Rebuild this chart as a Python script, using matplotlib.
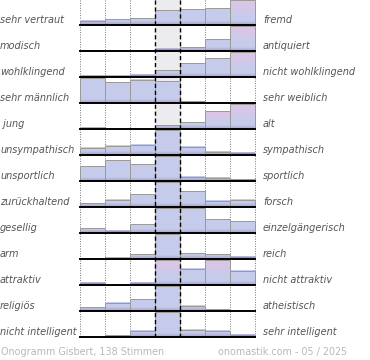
import numpy as np
import matplotlib.pyplot as plt
from matplotlib.patches import Rectangle

left_labels = ['sehr vertraut', 'modisch', 'wohlklingend', 'sehr männlich', ' jung',
               'unsympathisch', 'unsportlich', 'zurückhaltend', 'gesellig', 'arm',
               'attraktiv', 'religiös', 'nicht intelligent']
right_labels = ['fremd', 'antiquiert', 'nicht wohlklingend', 'sehr weiblich', 'alt',
                'sympathisch', 'sportlich', 'forsch', 'einzelgängerisch', 'reich',
                'nicht attraktiv', 'atheistisch', 'sehr intelligent']

# bar heights per row, relative to the row's tallest bar
scores = [
    [0.17, 0.23, 0.27, 0.60, 0.63, 0.67, 1.00],
    [0.04, 0.00, 0.00, 0.10, 0.15, 0.47, 1.00],
    [0.05, 0.06, 0.10, 0.27, 0.55, 0.75, 1.00],
    [1.00, 0.83, 0.93, 0.88, 0.08, 0.00, 0.00],
    [0.05, 0.00, 0.00, 0.15, 0.27, 0.72, 1.00],
    [0.30, 0.38, 0.42, 1.00, 0.33, 0.13, 0.09],
    [0.60, 0.83, 0.68, 1.00, 0.18, 0.13, 0.08],
    [0.15, 0.30, 0.52, 1.00, 0.63, 0.26, 0.30],
    [0.20, 0.09, 0.35, 1.00, 1.00, 0.55, 0.47],
    [0.00, 0.06, 0.20, 1.00, 0.23, 0.19, 0.10],
    [0.10, 0.00, 0.10, 1.00, 0.65, 1.00, 0.57],
    [0.16, 0.33, 0.47, 1.00, 0.21, 0.08, 0.00],
    [0.00, 0.08, 0.25, 1.00, 0.30, 0.25, 0.10],
]
# bars whose top fades to pink (row, column)
pink_top = [(0, 6), (1, 6), (2, 6), (4, 5), (4, 6), (10, 3), (10, 5)]

footer_left = 'Onogramm Gisbert, 138 Stimmen'
footer_right = 'onomastik.com - 05 / 2025'

# layout in pixels
x0, colw = 80, 25
y_first, rowh, barh = 25, 26, 25
ncol = 7
nrow = len(scores)
y_last = y_first + rowh * (nrow - 1)

blue = np.array([198, 204, 235]) / 255
purple = np.array([163, 150, 200]) / 255
pink = np.array([223, 196, 230]) / 255

fig = plt.figure(figsize=(3.7, 3.6), dpi=100)
ax = fig.add_axes([0, 0, 1, 1])
ax.set_xlim(0, 370)
ax.set_ylim(360, 0)
ax.axis('off')

# grey middle column
ax.add_patch(Rectangle((x0 + 3 * colw, 0), colw, y_last, color='#ececee', zorder=0))

# dotted grid
for i in range(ncol + 1):
    if i in (3, 4):
        continue
    ax.plot([x0 + i * colw] * 2, [0, y_last], color='#777777', lw=0.7,
            linestyle=(0, (1, 1.5)), zorder=1)

for r, row in enumerate(scores):
    base = y_first + r * rowh
    for c, v in enumerate(row):
        if v <= 0:
            continue
        h = v * barh
        n = max(int(h * 4), 2)
        d = np.linspace(h, 0, n)  # distance from bottom, top first
        wp = np.clip(1 - d / 4.0, 0, 1) * 0.85
        col = blue[None, :] * (1 - wp[:, None]) + purple[None, :] * wp[:, None]
        if (r, c) in pink_top:
            wk = np.clip((d - 0.35 * h) / (0.6 * h), 0, 1)
            col = col * (1 - wk[:, None]) + pink[None, :] * wk[:, None]
        img = np.repeat(col[:, None, :], 2, axis=1)
        left = x0 + c * colw
        ax.imshow(img, extent=(left, left + colw, base, base - h), origin='upper',
                  aspect='auto', interpolation='bilinear', zorder=2)
        ax.add_patch(Rectangle((left, base - h), colw, h, fill=False,
                               edgecolor='#9a9a9a', lw=0.7, zorder=3))
    ax.plot([x0, x0 + ncol * colw], [base, base], color='black', lw=1.4, zorder=5)
    ax.text(0, base - 5, left_labels[r], fontsize=7.0, style='italic',
            color='#555555', va='center', ha='left')
    ax.text(263, base - 5, right_labels[r], fontsize=7.0, style='italic',
            color='#555555', va='center', ha='left')

# dashed lines around the middle column
for i in (3, 4):
    ax.plot([x0 + i * colw] * 2, [0, y_last], color='black', lw=1.0,
            linestyle=(0, (3, 2)), zorder=4)

ax.text(1, 352, footer_left, fontsize=6.9, color='#b8b8b8', va='center', ha='left')
ax.text(347, 352, footer_right, fontsize=6.9, color='#b8b8b8', va='center', ha='right')

fig.savefig('out.png', dpi=100)
